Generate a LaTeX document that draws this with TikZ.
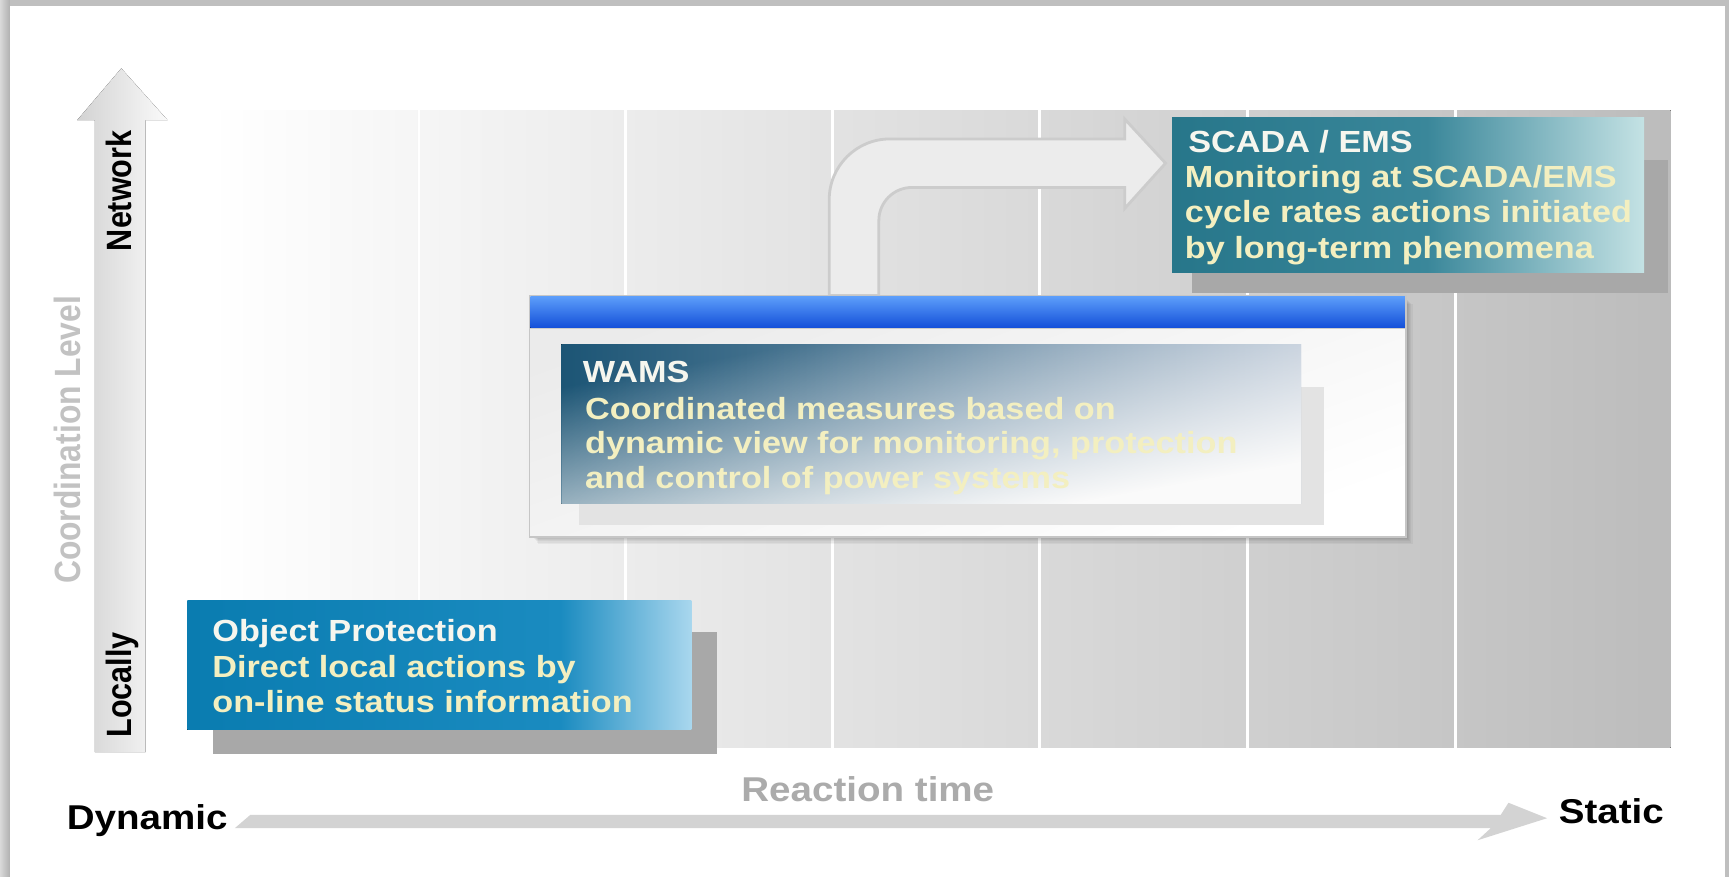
\documentclass[tikz,border=0pt]{standalone}
\usepackage{fontspec}
\setmainfont{Liberation Sans}[FakeStretch=1.12]
\newfontfamily\vertfont{Liberation Sans}[FakeStretch=0.87]
\usepackage{tikz}
\usetikzlibrary{fadings}

\definecolor{bggray}{HTML}{BCBCBC}
\definecolor{haxis}{HTML}{D3D3D3}
\definecolor{coordgray}{HTML}{C2C2C2}
\definecolor{reactgray}{HTML}{ABABAB}
\definecolor{shadowgray}{HTML}{A8A8A8}
\definecolor{titlewhite}{HTML}{F6F6EE}
\definecolor{linecream}{HTML}{F3EFC0}
\definecolor{opA}{HTML}{0A7CB0}
\definecolor{opM}{HTML}{1A8BC0}
\definecolor{opB}{HTML}{A9D7EE}
\definecolor{scA}{HTML}{27768A}
\definecolor{scM}{HTML}{3A879A}
\definecolor{scB}{HTML}{C4E2E4}
\definecolor{wamsdark}{HTML}{1C5575}
\definecolor{wamslight}{HTML}{A6B7CB}
\definecolor{bartop}{HTML}{5C9DFA}
\definecolor{barbot}{HTML}{1450D9}
\definecolor{arrowfill}{HTML}{ECECEC}

\pgfdeclarehorizontalshading{opshade}{100bp}{color(0bp)=(opA); color(25bp)=(opA); color(62bp)=(opM); color(75bp)=(opB); color(100bp)=(opB)}
\pgfdeclarehorizontalshading{scadashade}{100bp}{color(0bp)=(scA); color(25bp)=(scA); color(52bp)=(scM); color(75bp)=(scB); color(100bp)=(scB)}
\tikzfading[name=wamsfade, top color=transparent!100, middle color=transparent!85, bottom color=transparent!0]

\begin{document}
\begin{tikzpicture}[x=0.011027cm, y=-0.011027cm]
	\tikzstyle{boxtitle}=[anchor=base west, inner sep=0pt, text=titlewhite, font=\fontsize{8.7}{10}\selectfont\bfseries]
	\tikzstyle{boxline}=[boxtitle, text=linecream]
	\tikzstyle{vlabel}=[rotate=90, anchor=base, inner sep=0pt, font=\vertfont\fontsize{10}{12}\selectfont\bfseries]
	\tikzstyle{hlabel}=[anchor=base west, inner sep=0pt, font=\fontsize{9.8}{12}\selectfont\bfseries]
	\tikzstyle{shadowbox}=[fill=shadowgray]

	\useasboundingbox (0,0) rectangle (1568,795);
	% Draw the frame
	\fill[gray!50] (0,0) rectangle (1568,795);
	\fill[left color=gray!30, right color=gray!62] (0,0) rectangle (9,795);
	\fill[white] (9,5) rectangle (1564,795);

	% Draw the background columns
	\fill[left color=white, right color=bggray] (190,100) rectangle (1515,678);
	\foreach \x in {380,567,755,943,1131,1320}
	\draw[white, line width=0.8pt] (\x,100) -- (\x,678);

	% Draw the two axes
	\fill[left color=gray!35, right color=gray!4] (86,682) -- (86,109) -- (70,109) -- (110,62) -- (152,109) -- (132,109) -- (132,682) -- cycle;
	\fill[haxis] (213,751) -- (227,739) -- (1361,739) -- (1368,728) -- (1403,742) -- (1340,762) -- (1352,751) -- cycle;

	% Annotate the axes
	\node[vlabel] (net) at (119,173) {Network};
	\node[vlabel] (loc) at (119,621) {Locally};
	\node[vlabel, text=coordgray, font=\vertfont\fontsize{10.4}{12}\selectfont\bfseries] (coord) at (73,399) {Coordination Level};
	\node[hlabel] (dyn) at (60,752) {Dynamic};
	\node[hlabel] (stat) at (1413,747) {Static};
	\node[hlabel, anchor=base, text=reactgray] (react) at (787,727) {Reaction time};

	% Object protection box
	\fill[shadowbox] (193,573) rectangle (650,684);
	\fill[shading=opshade] (170,545) rectangle (627,662);
	\node[boxtitle] (op-title) at (192,582) {Object Protection};
	\foreach \txt [count=\i] in {Direct local actions by, on-line status information}
	\node[boxline] (op-\i) at (192,582+32*\i) {\txt};

	% Bent arrow from WAMS up to SCADA
	\filldraw[fill=arrowfill, draw=gray!40, line width=0.8pt] (752,268) -- (752,181) arc (180:270:55) -- (1020,126) -- (1020,108) -- (1057,148) -- (1020,189) -- (1020,170) -- (827,170) arc (270:180:30) -- (797,268) -- cycle;

	% WAMS panel with a soft shadow
	\foreach \s in {1,...,6}
	\fill[black, opacity=0.045] (482+\s,270+\s) rectangle (1275+\s,487+\s);
	\filldraw[draw=gray!45, top color=gray!16, bottom color=white, shading angle=20] (480,268) rectangle (1275,487);
	\fill[top color=bartop, bottom color=barbot] (481,269) rectangle (1274,297);
	\draw[gray!40] (480,298) -- (1275,298);
	\fill[gray!22] (525,351) rectangle (1201,476);
	\fill[left color=wamsdark, right color=wamslight] (509,312) rectangle (1180,457);
	\fill[white!96!gray, path fading=wamsfade, fading angle=40] (509,312) rectangle (1180,457);
	\node[boxtitle] (wams-title) at (528,347) {WAMS};
	\foreach \txt/\y [count=\i] in {Coordinated measures based on/380, {dynamic view for monitoring, protection}/411, and control of power systems/443}
	\node[boxline] (wams-\i) at (530,\y) {\txt};

	% SCADA / EMS box
	\fill[shadowbox] (1081,145) rectangle (1513,266);
	\fill[shading=scadashade] (1063,107) rectangle (1491,247);
	\node[boxtitle] (scada-title) at (1077,138) {SCADA / EMS};
	\foreach \txt [count=\i] in {Monitoring at SCADA/EMS, cycle rates actions initiated, by long-term phenomena}
	\node[boxline] (scada-\i) at (1074,138+32*\i) {\txt};
\end{tikzpicture}
\end{document}
